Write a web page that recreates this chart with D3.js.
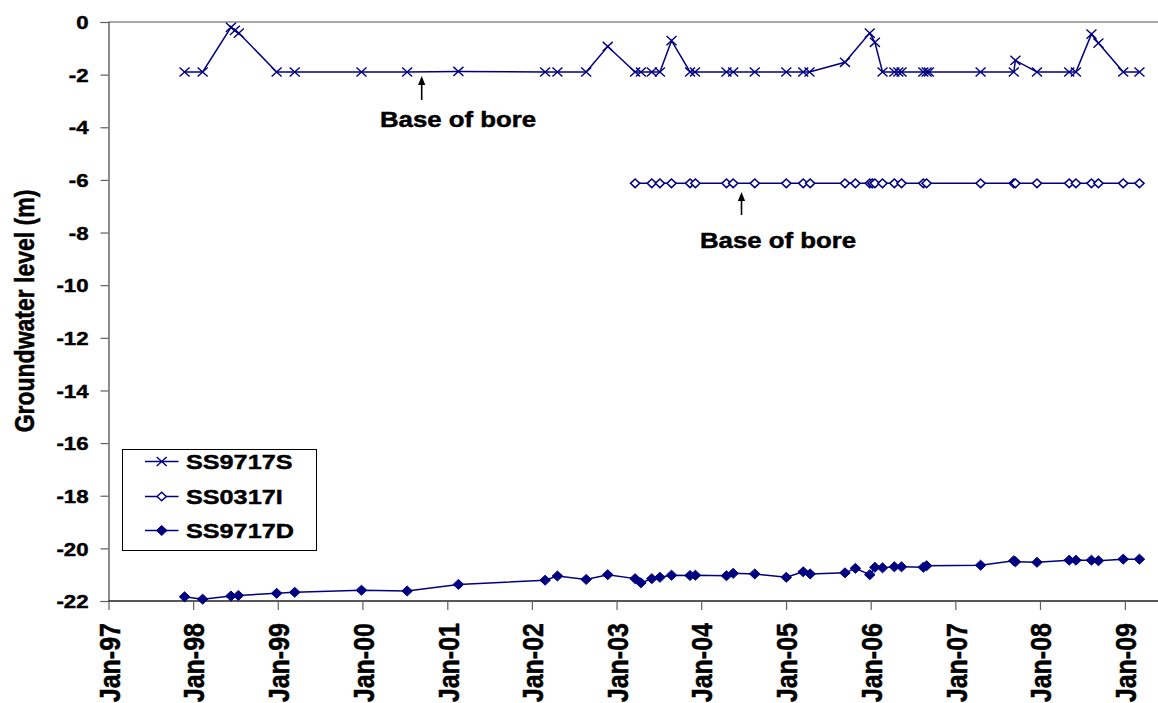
<!DOCTYPE html>
<html>
<head>
<meta charset="utf-8">
<script src="https://cdn.jsdelivr.net/npm/d3@7"></script>
<style>
  html, body { margin: 0; padding: 0; background: #fff; }
  svg { display: block; }
  svg text { font-family: "Liberation Sans", Arial, sans-serif; font-weight: 700; fill: #000; stroke: #000; stroke-width: 0.45px; }
</style>
</head>
<body>
<svg id="chart" width="1158" height="703"></svg>
<script>
// ---- Monitoring data: groundwater level (m) per bore ----
const ss9717sDates = ["1997-11-25","1998-02-11","1998-06-13","1998-06-30","1998-07-17","1998-12-27","1999-03-15","1999-12-28","2000-07-12","2001-02-18","2002-02-27","2002-04-21","2002-08-23","2002-11-24","2003-03-22","2003-04-16","2003-06-02","2003-07-07","2003-08-26","2003-11-14","2003-12-05","2004-04-19","2004-05-18","2004-08-19","2005-01-02","2005-03-16","2005-04-12","2005-09-12","2005-12-28","2006-01-19","2006-02-21","2006-04-13","2006-04-30","2006-05-14","2006-08-16","2006-08-30","2006-09-09","2007-04-20","2007-09-10","2007-09-17","2007-12-19","2008-05-06","2008-06-04","2008-08-10","2008-09-09","2008-12-25","2009-03-05"];
const ss9717sLevels = [-1.9,-1.9,-0.2,-0.32,-0.42,-1.9,-1.9,-1.9,-1.9,-1.88,-1.9,-1.9,-1.9,-0.93,-1.9,-1.9,-1.9,-1.9,-0.71,-1.9,-1.9,-1.9,-1.9,-1.9,-1.9,-1.9,-1.9,-1.53,-0.42,-0.77,-1.9,-1.9,-1.9,-1.9,-1.9,-1.9,-1.9,-1.9,-1.9,-1.46,-1.9,-1.9,-1.9,-0.46,-0.8,-1.9,-1.9];

const ss0317iDates = ["2003-03-22","2003-06-02","2003-07-07","2003-08-26","2003-11-14","2003-12-07","2004-04-19","2004-05-18","2004-08-19","2005-01-02","2005-03-16","2005-04-15","2005-09-12","2005-10-27","2005-12-28","2006-01-08","2006-01-19","2006-02-21","2006-04-13","2006-05-14","2006-08-16","2006-08-30","2007-04-20","2007-09-10","2007-09-17","2007-12-19","2008-05-06","2008-06-04","2008-08-10","2008-09-09","2008-12-25","2009-03-05"];
const ss0317iLevels = [-6.13,-6.13,-6.13,-6.13,-6.13,-6.13,-6.13,-6.13,-6.13,-6.13,-6.13,-6.13,-6.13,-6.13,-6.13,-6.13,-6.13,-6.13,-6.13,-6.13,-6.13,-6.13,-6.13,-6.13,-6.13,-6.13,-6.13,-6.13,-6.13,-6.13,-6.13,-6.13];

const ss9717dDates = ["1997-11-25","1998-02-11","1998-06-13","1998-07-15","1998-12-27","1999-03-15","1999-12-28","2000-07-12","2001-02-18","2002-02-27","2002-04-21","2002-08-23","2002-11-24","2003-03-22","2003-04-16","2003-06-02","2003-07-07","2003-08-26","2003-11-14","2003-12-07","2004-04-19","2004-05-18","2004-08-19","2005-01-02","2005-03-16","2005-04-15","2005-09-12","2005-10-27","2005-12-28","2006-01-19","2006-02-21","2006-04-13","2006-05-14","2006-08-16","2006-08-30","2007-04-20","2007-09-10","2007-09-17","2007-12-19","2008-05-06","2008-06-04","2008-08-10","2008-09-09","2008-12-25","2009-03-05"];
const ss9717dLevels = [-21.84,-21.93,-21.81,-21.79,-21.71,-21.67,-21.59,-21.62,-21.37,-21.21,-21.05,-21.18,-21.0,-21.15,-21.31,-21.15,-21.10,-21.02,-21.03,-21.02,-21.04,-20.95,-20.97,-21.10,-20.89,-20.97,-20.93,-20.76,-21.0,-20.72,-20.74,-20.70,-20.70,-20.72,-20.66,-20.64,-20.47,-20.51,-20.53,-20.45,-20.45,-20.45,-20.47,-20.41,-20.41];

const seriesNames = ["SS9717S", "SS0317I", "SS9717D"];
const yTickValues = [0,-2,-4,-6,-8,-10,-12,-14,-16,-18,-20,-22];
const xTickYears = [1997,1998,1999,2000,2001,2002,2003,2004,2005,2006,2007,2008,2009];
const annotationText = "Base of bore";

// ---- Layout ----
const plot = { left: 108.5, top: 22, right: 1158, bottom: 601 };
const NAVY = "#000080";
const SX = 1.2; // horizontal text stretch

const parse = d3.timeParse("%Y-%m-%d");
const x = d3.scaleTime()
  .domain([new Date(1997, 0, 1), new Date(2009, 4, 24)])
  .range([plot.left, plot.right]);
const y = d3.scaleLinear().domain([-22, 0]).range([plot.bottom, plot.top]);

const svg = d3.select("#chart");

// plot frame top edge
svg.append("line")
  .attr("x1", plot.left).attr("x2", plot.right)
  .attr("y1", plot.top).attr("y2", plot.top)
  .attr("stroke", "#8a8a8a").attr("stroke-width", 1.3);

// y axis (hyphen as minus sign)
const yFmt = d => String(d);
const yAxis = d3.axisLeft(y).tickValues(yTickValues).tickSize(8).tickFormat(yFmt);
const gy = svg.append("g").attr("transform", `translate(${plot.left},0)`).call(yAxis);
gy.attr("font-family", null).attr("font-size", null);
gy.select(".domain").attr("stroke", "#404040").attr("stroke-width", 1.2);
gy.selectAll(".tick line").attr("stroke", "#606060").attr("stroke-width", 1.2);
gy.selectAll(".tick text").remove();
gy.selectAll(".tick").append("text")
  .attr("transform", `translate(-20,0) scale(${SX},1)`)
  .attr("text-anchor", "end")
  .attr("dy", "0.36em")
  .style("font-size", "18.5px")
  .text(yFmt);

// x axis
const xTicks = xTickYears.map(yr => new Date(yr, 0, 1));
const xFmt = d3.timeFormat("%b-%y");
const xAxis = d3.axisBottom(x).tickValues(xTicks).tickSize(9).tickFormat(xFmt);
const gx = svg.append("g").attr("transform", `translate(0,${plot.bottom})`).call(xAxis);
gx.attr("font-family", null).attr("font-size", null);
gx.select(".domain").attr("stroke", "#202020").attr("stroke-width", 1.4).attr("d", `M${plot.left},0H${plot.right}`);
gx.selectAll(".tick line").attr("stroke", "#606060").attr("stroke-width", 1.2);
gx.selectAll(".tick text").remove();
gx.selectAll(".tick").append("text")
  .attr("transform", `translate(0,22) scale(${SX},1) rotate(-90)`)
  .attr("text-anchor", "end")
  .attr("dy", "0.358em")
  .style("font-size", "25px")
  .text(xFmt);

// y axis title
svg.append("text")
  .attr("transform", `translate(24,311) scale(${SX},1) rotate(-90)`)
  .attr("text-anchor", "middle")
  .attr("dy", "0.358em")
  .style("font-size", "23px")
  .text("Groundwater level (m)");

// marker shapes
const markerPaths = {
  cross: "M-5,-4.6L5,4.6M-5,4.6L5,-4.6",
  diamondOpen: "M0,-4.3L4.6,0L0,4.3L-4.6,0Z",
  diamondFilled: "M0,-5L5.3,0L0,5L-5.3,0Z"
};
const markerStyle = {
  cross: { fill: "none", stroke: NAVY, sw: 1.4 },
  diamondOpen: { fill: "#fff", stroke: NAVY, sw: 1.5 },
  diamondFilled: { fill: NAVY, stroke: NAVY, sw: 1 }
};

function makeSeries(dates, levels) {
  return dates.map((d, i) => ({ date: parse(d), level: levels[i] }));
}
const series = [
  { name: seriesNames[0], data: makeSeries(ss9717sDates, ss9717sLevels), marker: "cross" },
  { name: seriesNames[1], data: makeSeries(ss0317iDates, ss0317iLevels), marker: "diamondOpen" },
  { name: seriesNames[2], data: makeSeries(ss9717dDates, ss9717dLevels), marker: "diamondFilled" }
];

const line = d3.line().x(d => x(d.date)).y(d => y(d.level));

series.forEach(s => {
  const g = svg.append("g").attr("class", "series");
  g.append("path").datum(s.data)
    .attr("d", line)
    .attr("fill", "none")
    .attr("stroke", NAVY)
    .attr("stroke-width", 1.5);
  const st = markerStyle[s.marker];
  g.selectAll("path.pt").data(s.data).join("path")
    .attr("class", "pt")
    .attr("d", markerPaths[s.marker])
    .attr("transform", d => `translate(${x(d.date)},${y(d.level)})`)
    .attr("fill", st.fill)
    .attr("stroke", st.stroke)
    .attr("stroke-width", st.sw);
});

// "Base of bore" annotations with arrows
const annotations = [
  { tipX: 421.7, tipY: 76, tailY: 100, textX: 380, textY: 127 },
  { tipX: 741.5, tipY: 192, tailY: 215, textX: 700, textY: 248 }
];
annotations.forEach(a => {
  svg.append("line")
    .attr("x1", a.tipX).attr("x2", a.tipX)
    .attr("y1", a.tipY + 6).attr("y2", a.tailY)
    .attr("stroke", "#000").attr("stroke-width", 1.6);
  svg.append("path")
    .attr("d", `M${a.tipX},${a.tipY}L${a.tipX + 3.6},${a.tipY + 9}L${a.tipX - 3.6},${a.tipY + 9}Z`)
    .attr("fill", "#000");
  svg.append("text")
    .attr("transform", `translate(${a.textX},${a.textY}) scale(${SX},1)`)
    .style("font-size", "21.5px")
    .text(annotationText);
});

// legend
const legend = svg.append("g");
legend.append("rect")
  .attr("x", 122.5).attr("y", 449.5).attr("width", 194).attr("height", 101)
  .attr("fill", "#fff").attr("stroke", "#000").attr("stroke-width", 1);
const legendRows = [461.5, 496.5, 530.5];
series.forEach((s, i) => {
  const cy = legendRows[i];
  legend.append("line")
    .attr("x1", 145).attr("x2", 178.5).attr("y1", cy).attr("y2", cy)
    .attr("stroke", NAVY).attr("stroke-width", 1.5);
  const st = markerStyle[s.marker];
  legend.append("path")
    .attr("d", markerPaths[s.marker])
    .attr("transform", `translate(161.7,${cy})`)
    .attr("fill", st.fill).attr("stroke", st.stroke).attr("stroke-width", st.sw);
  legend.append("text")
    .attr("transform", `translate(186,${cy}) scale(${SX},1)`)
    .attr("dy", "0.36em")
    .style("font-size", "21px")
    .text(s.name);
});
</script>
</body>
</html>
